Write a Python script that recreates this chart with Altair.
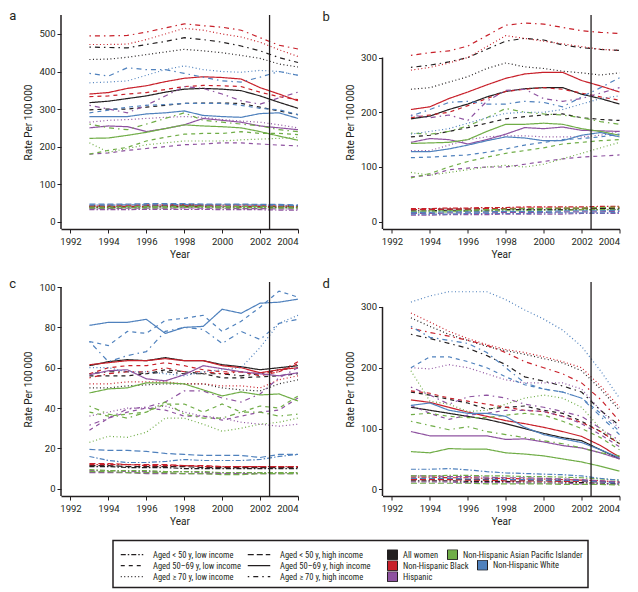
import altair as alt
import pandas as pd

YEARS = list(range(1993, 2005))
GROUPS = ["All women", "Non-Hispanic Black", "Hispanic",
          "Non-Hispanic Asian Pacific Islander", "Non-Hispanic White"]
COLORS = ["#231f20", "#c8202a", "#8e52a0", "#70ad47", "#4f81bd"]
STYLES = ["Aged < 50 y, low income", "Aged 50–69 y, low income",
          "Aged ≥ 70 y, low income", "Aged < 50 y, high income",
          "Aged 50–69 y, high income", "Aged ≥ 70 y, high income"]
DASHES = [[5, 2, 1.5, 2], [4, 4], [1, 2.5], [6, 3], [1, 0], [1.5, 4, 5, 4]]

# series order per group follows STYLES
PANEL_A = {
    "All women": [
        [38, 38, 39, 39, 40, 40, 40, 39, 39, 39, 38, 38],
        [298, 300, 300, 305, 310, 315, 316, 316, 315, 305, 295, 285],
        [432, 433, 438, 445, 452, 459, 455, 450, 443, 435, 420, 412],
        [41, 41, 41, 42, 42, 42, 42, 41, 41, 41, 40, 40],
        [317, 321, 328, 335, 345, 353, 355, 353, 349, 335, 318, 302],
        [465, 464, 463, 472, 480, 490, 485, 478, 468, 455, 437, 424]],
    "Non-Hispanic Black": [
        [40, 40, 41, 41, 42, 42, 42, 42, 41, 41, 41, 40],
        [333, 335, 340, 344, 352, 360, 363, 362, 360, 345, 333, 325],
        [472, 472, 473, 485, 500, 515, 510, 500, 492, 478, 458, 440],
        [43, 44, 44, 45, 45, 46, 45, 45, 45, 44, 44, 43],
        [340, 344, 355, 362, 373, 382, 386, 384, 380, 357, 340, 322],
        [495, 495, 496, 505, 516, 527, 522, 518, 510, 490, 470, 460]],
    "Hispanic": [
        [32, 32, 32, 33, 33, 33, 33, 32, 32, 32, 31, 31],
        [180, 183, 190, 195, 200, 205, 207, 210, 210, 207, 204, 202],
        [265, 270, 272, 275, 278, 280, 278, 272, 268, 265, 258, 250],
        [35, 35, 36, 36, 36, 37, 36, 36, 35, 35, 34, 34],
        [250, 255, 253, 240, 248, 258, 275, 270, 265, 255, 250, 245],
        [310, 300, 290, 310, 335, 360, 355, 340, 322, 313, 330, 345]],
    "Non-Hispanic Asian Pacific Islander": [
        [36, 36, 37, 37, 37, 38, 38, 37, 37, 37, 36, 36],
        [180, 190, 198, 215, 225, 233, 235, 235, 240, 235, 235, 232],
        [210, 185, 195, 205, 210, 215, 215, 215, 218, 220, 222, 225],
        [39, 39, 40, 40, 40, 41, 41, 40, 40, 40, 39, 39],
        [222, 223, 230, 238, 248, 258, 255, 253, 250, 240, 228, 217],
        [260, 250, 245, 260, 275, 290, 270, 265, 260, 255, 245, 240]],
    "Non-Hispanic White": [
        [44, 44, 45, 45, 45, 46, 45, 45, 45, 44, 44, 43],
        [290, 297, 305, 310, 312, 315, 315, 315, 310, 302, 298, 285],
        [370, 372, 375, 390, 405, 415, 405, 400, 398, 403, 400, 390],
        [47, 47, 47, 48, 48, 48, 47, 47, 47, 46, 46, 45],
        [280, 280, 280, 287, 290, 295, 283, 280, 278, 288, 290, 275],
        [395, 388, 410, 405, 405, 395, 385, 375, 372, 385, 400, 390]],
}

PANEL_B = {
    "All women": [
        [20, 20, 21, 21, 21, 22, 22, 22, 22, 22, 22, 22],
        [155, 158, 165, 172, 180, 188, 192, 195, 197, 190, 187, 185],
        [242, 245, 255, 265, 280, 290, 283, 280, 275, 272, 268, 272],
        [22, 23, 23, 23, 24, 24, 24, 24, 24, 24, 24, 24],
        [188, 193, 205, 215, 228, 238, 243, 245, 245, 233, 225, 215],
        [282, 286, 292, 300, 315, 330, 335, 332, 323, 318, 315, 313]],
    "Non-Hispanic Black": [
        [24, 24, 25, 25, 26, 26, 27, 27, 27, 27, 28, 28],
        [190, 195, 200, 212, 225, 238, 242, 245, 242, 235, 228, 222],
        [277, 282, 290, 300, 320, 340, 335, 330, 325, 320, 315, 313],
        [22, 22, 23, 23, 24, 24, 25, 25, 25, 25, 26, 26],
        [205, 210, 225, 237, 250, 262, 270, 273, 273, 258, 248, 237],
        [304, 309, 312, 321, 340, 359, 363, 361, 355, 349, 346, 344]],
    "Hispanic": [
        [12, 12, 13, 13, 13, 14, 14, 14, 14, 15, 15, 15],
        [82, 85, 95, 98, 100, 100, 105, 110, 115, 118, 120, 122],
        [130, 130, 140, 150, 155, 157, 157, 155, 155, 155, 158, 165],
        [15, 15, 16, 16, 16, 17, 17, 17, 18, 18, 18, 19],
        [145, 152, 150, 142, 150, 160, 172, 170, 173, 167, 166, 165],
        [195, 190, 195, 185, 220, 240, 242, 225, 220, 225, 235, 245]],
    "Non-Hispanic Asian Pacific Islander": [
        [17, 18, 18, 19, 19, 20, 20, 21, 21, 22, 22, 23],
        [80, 88, 100, 110, 118, 125, 130, 135, 142, 145, 148, 150],
        [90, 85, 90, 95, 100, 103, 100, 105, 115, 125, 135, 145],
        [19, 20, 20, 21, 22, 23, 24, 24, 25, 25, 26, 27],
        [143, 144, 145, 150, 165, 178, 178, 180, 178, 170, 165, 158],
        [162, 160, 165, 175, 190, 207, 200, 197, 195, 190, 183, 178]],
    "Non-Hispanic White": [
        [14, 14, 14, 15, 15, 15, 15, 16, 16, 16, 16, 17],
        [117, 118, 120, 122, 127, 133, 140, 145, 150, 152, 155, 160],
        [160, 165, 170, 180, 190, 198, 200, 200, 205, 215, 225, 230],
        [17, 17, 18, 18, 18, 19, 19, 19, 20, 20, 20, 21],
        [128, 128, 133, 140, 148, 155, 153, 148, 148, 158, 163, 155],
        [193, 205, 218, 220, 215, 215, 220, 218, 210, 228, 245, 263]],
}

PANEL_C = {
    "All women": [
        [11, 11, 10.5, 10.5, 10.5, 10, 10, 10, 10, 10, 10, 10],
        [56, 56, 56, 57, 59, 58, 57, 55, 55, 55.5, 56, 57],
        [50, 50, 51, 51.5, 52, 52, 52, 50, 49, 48.5, 52, 54],
        [11.5, 11.5, 11, 11, 11, 11, 10.5, 10.5, 10.5, 10.5, 10.5, 10.5],
        [61, 63, 64, 63.5, 65, 63.5, 63.5, 61.5, 60.5, 59, 60, 61],
        [57, 58, 58, 57, 58, 57, 57, 57, 56, 57, 59, 60]],
    "Non-Hispanic Black": [
        [12, 12, 12, 11.5, 11.5, 11.5, 11, 11, 11, 11, 11, 11],
        [57, 60, 61, 61, 62.5, 61, 59, 58, 58, 56, 58, 62],
        [52, 52, 53, 53, 53, 52, 52, 51, 51, 50, 54, 56],
        [12.5, 12.5, 12, 12, 12, 11.5, 11.5, 11, 11, 11, 11, 11],
        [61.5, 62.5, 63.5, 63.5, 64.5, 63.5, 63.5, 61, 60, 57.5, 59, 60],
        [55, 57, 58, 58, 60, 58, 58, 57, 58, 57, 58, 63]],
    "Hispanic": [
        [9, 9, 8.5, 8.5, 8.5, 8.5, 8, 8, 8, 8, 8, 8],
        [29, 35, 38, 40, 39, 36, 36, 34, 36, 38, 39, 45],
        [36, 38, 40, 40, 41, 38, 36, 35, 33, 32, 31, 32],
        [8, 8, 8, 7.5, 7.5, 7.5, 7.5, 7.5, 7.5, 7.5, 7.5, 7.5],
        [56.5, 58.5, 59, 54.5, 53.5, 56.5, 61, 59.5, 58, 57, 56, 57.5],
        [31.5, 35, 39.5, 40.5, 43, 48.5, 48.5, 45, 43, 47, 55, 60]],
    "Non-Hispanic Asian Pacific Islander": [
        [9.5, 9, 9, 9, 8.5, 8.5, 8.5, 8, 8, 8, 8, 8],
        [38, 36, 37, 38, 42, 42, 38, 42, 38, 41, 40, 46],
        [23, 26, 25.5, 28, 35, 35, 32, 28.5, 30, 32, 33, 35],
        [8.5, 8.5, 8, 8, 8, 7.5, 7.5, 7, 7, 7.5, 7.5, 7.5],
        [47.5, 49.5, 50, 52.5, 52.5, 52, 49, 46, 48, 46.5, 47, 43.5],
        [41, 37, 35, 38, 43, 37, 35, 35, 38, 38, 36, 37]],
    "Non-Hispanic White": [
        [16, 14, 13, 13, 13.5, 14.5, 14, 14, 14, 14.5, 16, 17],
        [73, 71, 78, 77, 83.5, 84.5, 86, 78, 83, 90, 98, 95],
        [60, 60, 58, 58, 57, 56, 58, 59, 60, 70, 82, 86],
        [19.5, 19, 19, 18.5, 17.5, 17, 16.5, 16.5, 16.5, 15.5, 17, 17],
        [81, 82.5, 82.5, 84, 77, 80, 80.5, 89, 87, 92, 92.5, 94],
        [73, 63, 66, 68, 78, 80, 79, 72, 78, 74, 82, 84]],
}

PANEL_D = {
    "All women": [
        [14, 14, 14, 13, 13, 13, 12, 12, 12, 11, 10, 9],
        [160, 155, 148, 142, 132, 135, 137, 130, 125, 112, 95, 75],
        [282, 268, 255, 245, 235, 228, 222, 215, 208, 195, 165, 130],
        [17, 17, 17, 16, 16, 16, 15, 15, 14, 14, 13, 12],
        [135, 130, 125, 120, 115, 108, 100, 92, 85, 80, 65, 50],
        [255, 248, 240, 232, 220, 205, 185, 178, 170, 160, 130, 105]],
    "Non-Hispanic Black": [
        [20, 20, 19, 19, 18, 18, 17, 17, 16, 15, 14, 12],
        [162, 158, 150, 145, 140, 135, 130, 128, 120, 110, 95, 75],
        [290, 275, 260, 248, 238, 230, 225, 218, 210, 200, 170, 135],
        [16, 16, 16, 15, 15, 14, 14, 14, 13, 13, 12, 11],
        [147, 143, 135, 127, 120, 113, 108, 102, 95, 87, 72, 53],
        [265, 258, 252, 245, 237, 225, 210, 200, 190, 175, 148, 112]],
    "Hispanic": [
        [12, 12, 12, 11, 11, 11, 10, 10, 10, 9, 9, 8],
        [138, 125, 115, 122, 125, 130, 130, 128, 120, 108, 90, 70],
        [200, 198, 205, 200, 190, 180, 175, 175, 175, 165, 130, 100],
        [22, 22, 21, 21, 20, 19, 19, 18, 17, 16, 14, 12],
        [95, 88, 88, 88, 88, 82, 83, 78, 72, 68, 60, 50],
        [168, 155, 140, 152, 155, 150, 140, 135, 128, 120, 100, 80]],
    "Non-Hispanic Asian Pacific Islander": [
        [22, 22, 23, 23, 22, 22, 21, 21, 20, 19, 17, 15],
        [123, 125, 120, 118, 118, 122, 125, 122, 112, 100, 85, 65],
        [195, 145, 140, 128, 130, 140, 150, 155, 150, 135, 100, 75],
        [10, 10, 10, 10, 9, 9, 9, 9, 8, 8, 8, 7],
        [62, 60, 67, 66, 66, 60, 58, 55, 50, 45, 38, 30],
        [112, 105, 98, 103, 95, 90, 85, 80, 75, 68, 60, 55]],
    "Non-Hispanic White": [
        [33, 33, 34, 32, 29, 27, 26, 25, 24, 22, 18, 15],
        [200, 218, 218, 210, 200, 185, 172, 165, 160, 150, 125, 95],
        [308, 318, 325, 325, 325, 312, 295, 280, 262, 235, 195, 150],
        [18, 18, 18, 17, 17, 16, 16, 15, 15, 14, 12, 10],
        [138, 142, 130, 125, 125, 120, 102, 90, 83, 77, 65, 52],
        [268, 250, 245, 240, 225, 200, 175, 165, 160, 150, 120, 90]],
}

X_TICKS = [1992, 1994, 1996, 1998, 2000, 2002, 2004]
CUTOFF_YEAR = 2002.5

FONT = "Roboto"
LEG_FONT_FAMILY = "Liberation Sans Narrow, Roboto Condensed, Roboto"
INK = "#231f20"
PW, PH = 237, 214


def build(panel_data):
    rows = []
    for g in GROUPS:
        for s, series in zip(STYLES, panel_data[g]):
            for yr, v in zip(YEARS, series):
                rows.append({"year": yr, "value": v, "group": g, "style": s})
    return pd.DataFrame(rows)


def panel(label, data, ymin, ymax, axis_top, ticks, dx):
    df = build(data)
    x = alt.X("year:Q",
              scale=alt.Scale(domain=[1991.5, 2004], nice=False, zero=False),
              axis=alt.Axis(values=X_TICKS, format="d", title="Year",
                            labelPadding=3, titlePadding=4))
    y = alt.Y("value:Q",
              scale=alt.Scale(domain=[ymin, ymax], nice=False, zero=False),
              axis=alt.Axis(values=ticks, title="Rate Per 100\u2009000",
                            domain=False, labelPadding=2, titlePadding=5))
    lines = alt.Chart(df).mark_line(strokeWidth=1.2).encode(
        x=x, y=y,
        color=alt.Color("group:N", scale=alt.Scale(domain=GROUPS, range=COLORS), legend=None),
        strokeDash=alt.StrokeDash("style:N", scale=alt.Scale(domain=STYLES, range=DASHES), legend=None),
    )
    yline = alt.Chart(pd.DataFrame({"value": [axis_top], "value_end": [ymin]})).mark_rule(
        color=INK, strokeWidth=1.5).encode(
        x=alt.value(0), y=y, y2=alt.Y2("value_end:Q"),
    )
    cutoff = alt.Chart(pd.DataFrame({"year": [CUTOFF_YEAR]})).mark_rule(
        color=INK, strokeWidth=1.3).encode(x=x)
    return alt.layer(lines, yline, cutoff).properties(
        width=PW, height=PH,
        title=alt.TitleParams(label, anchor="start", frame="group", dx=dx, dy=19.2,
                              offset=0.01, baseline="alphabetic", fontSize=13,
                              fontWeight="normal", font=FONT, color=INK),
    )


a = panel("a", PANEL_A, -19.4, 550.5, 550.5, [0, 100, 200, 300, 400, 500], -51.7)
b = panel("b", PANEL_B, -13.3, 377.7, 300, [0, 100, 200, 300], -60)
c = panel("c", PANEL_C, -3.6, 102.5, 100, [0, 20, 40, 60, 80, 100], -51.7)
d = panel("d", PANEL_D, -11.0, 341.0, 300, [0, 100, 200, 300], -60)

common_leg = dict(title=None, orient="none", clipHeight=10.5, rowPadding=0.01, padding=0.01,
                  labelFontSize=8.5, labelFont=LEG_FONT_FAMILY, labelColor=INK, labelLimit=300)
line_sym = dict(symbolType="stroke", symbolSize=506, symbolStrokeWidth=1.3,
                symbolStrokeColor=INK, labelOffset=9, **common_leg)


def dash_key(styles, dashes, lx):
    return alt.Chart(pd.DataFrame({"style": styles})).mark_line().encode(
        strokeDash=alt.StrokeDash(
            "style:N", scale=alt.Scale(domain=styles, range=dashes),
            legend=alt.Legend(legendX=lx, legendY=9, **line_sym)),
    ).transform_filter("false")


sq = dict(symbolType="square", symbolSize=100, symbolStrokeColor=INK,
          symbolStrokeWidth=1, symbolOpacity=1, labelOffset=5, **common_leg)

COL1 = GROUPS[:3]
color_leg = alt.Chart(pd.DataFrame({"group": COL1})).mark_square().encode(
    color=alt.Color("group:N", scale=alt.Scale(domain=COL1, range=COLORS[:3]),
                    legend=alt.Legend(legendX=274, legendY=9, **sq)),
).transform_filter("false")


def fill_key(i, lx, ly):
    return alt.Chart(pd.DataFrame({"group": [GROUPS[i]]})).mark_square().encode(
        fill=alt.Fill("group:N", scale=alt.Scale(domain=[GROUPS[i]], range=[COLORS[i]]),
                      legend=alt.Legend(legendX=lx, legendY=ly, **sq)),
    ).transform_filter("false")


box = alt.layer(
    dash_key(STYLES[:3], DASHES[:3], 7),
    dash_key(STYLES[3:], DASHES[3:], 134),
    color_leg,
    fill_key(3, 334, 9),
    fill_key(4, 364, 19.5),
).properties(
    width=475, height=47,
    view=alt.ViewBackground(stroke=INK, strokeWidth=1.5),
).resolve_scale(color="independent", strokeDash="independent", fill="independent"
                ).resolve_legend(fill="independent", strokeDash="independent")

spacer = alt.Chart(pd.DataFrame({"v": [0.5]})).mark_point(opacity=0).encode(
    x=alt.X("v:Q", axis=None, scale=alt.Scale(domain=[0, 1])),
    y=alt.Y("v:Q", axis=None, scale=alt.Scale(domain=[0, 1])),
).properties(width=49.3, height=47, view=alt.ViewBackground(stroke="white", strokeWidth=0.5))


def indep(ch):
    return ch.resolve_scale(color="independent", strokeDash="independent", fill="independent")


row1 = indep(alt.hconcat(a, b, spacing=21.5))
row2 = indep(alt.hconcat(c, d, spacing=21.5))
row3 = indep(alt.hconcat(spacer, box, spacing=1))
panels = indep(alt.vconcat(row1, row2, spacing=17))

chart = indep(alt.vconcat(panels, row3, spacing=12.4)).properties(
    padding={"left": 1, "top": 2, "right": 0, "bottom": 0},
).configure_view(stroke=None).configure_axis(
    labelFont=FONT, titleFont=FONT, labelColor=INK, titleColor=INK,
    tickColor=INK, domainColor=INK, grid=False, labelFontSize=9.5,
    titleFontSize=10, titleFontWeight="normal", tickSize=4,
    domainWidth=1.5, tickWidth=1,
).configure_legend(labelFont=LEG_FONT_FAMILY, labelColor=INK)

chart.save("out.html", embed_options={"renderer": "svg", "actions": False})
